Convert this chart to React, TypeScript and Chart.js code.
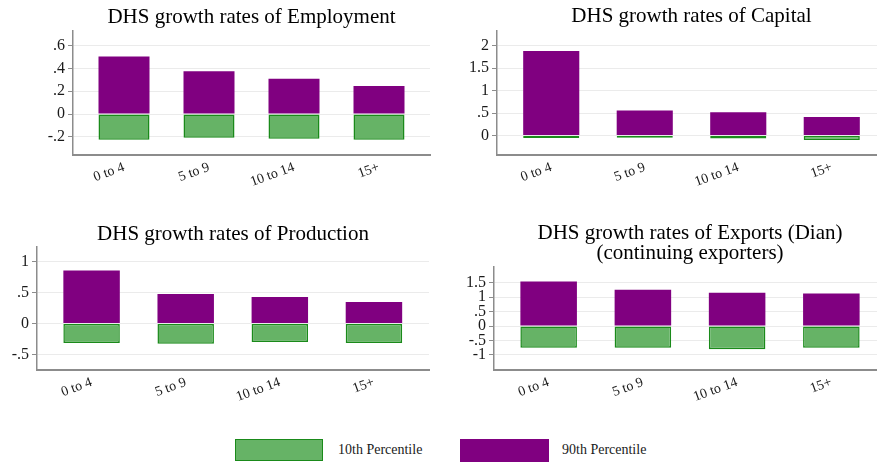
import React, { useEffect, useRef } from 'react';
import { Chart, registerables } from 'chart.js';

Chart.register(...registerables);

// ---------- data ----------
const categories = ['0 to 4', '5 to 9', '10 to 14', '15+'];
const legendLabels = ['10th Percentile', '90th Percentile'];

const employmentP10 = [-0.226, -0.209, -0.218, -0.226];
const employmentP90 = [0.506, 0.376, 0.311, 0.247];
const employmentTicks = [-0.2, 0, 0.2, 0.4, 0.6];

const capitalP10 = [-0.054, -0.05, -0.067, -0.098];
const capitalP90 = [1.88, 0.558, 0.52, 0.415];
const capitalTicks = [0, 0.5, 1, 1.5, 2];

const productionP10 = [-0.316, -0.327, -0.3, -0.316];
const productionP90 = [0.86, 0.479, 0.43, 0.35];
const productionTicks = [-0.5, 0, 0.5, 1];

const exportsP10 = [-0.75, -0.75, -0.8, -0.75];
const exportsP90 = [1.54, 1.256, 1.15, 1.12];
const exportsTicks = [-1, -0.5, 0, 0.5, 1, 1.5];

// ---------- styles ----------
const GREEN_FILL = '#66b366';
const GREEN_LINE = '#1a8a1a';
const PURPLE = '#800080';
const AXIS = '#8c8c8c';
const GRID = '#ebebeb';
const TEXT = '#1a1a1a';
const SERIF = '"Liberation Serif", "Times New Roman", serif';

function fmt(v: number): string {
  const r = Math.round(v * 100) / 100;
  let s = String(r);
  s = s.replace(/^0\./, '.').replace(/^-0\./, '-.');
  return s;
}

const plotTitle = {
  id: 'plotTitle',
  afterDraw(chart: any, _args: any, opts: any) {
    const { ctx, chartArea } = chart;
    if (!opts || !opts.lines) return;
    ctx.save();
    ctx.font = `21px ${SERIF}`;
    ctx.fillStyle = '#000';
    ctx.textAlign = 'center';
    ctx.textBaseline = 'alphabetic';
    const cx = (chartArea.left + chartArea.right) / 2;
    opts.lines.forEach((l: string, i: number) => ctx.fillText(l, cx, opts.y + i * opts.lineHeight));
    ctx.restore();
  },
};

type PanelCfg = {
  lines: string[];
  p10: number[];
  p90: number[];
  ticks: number[];
  yMin: number;
  yMax: number;
  xMin: number;
  xMax: number;
  left: number;
  top: number;
  width: number;
  height: number;
  yAxisWidth: number;
  xAxisHeight: number;
  padTop: number;
  padRight: number;
  titleY: number;
};

const panels: PanelCfg[] = [
  {
    lines: ['DHS growth rates of Employment'],
    p10: employmentP10, p90: employmentP90, ticks: employmentTicks,
    yMin: -0.361, yMax: 0.731, xMin: -0.6, xMax: 3.6,
    left: 0, top: 0, width: 440, height: 200,
    yAxisWidth: 73, xAxisHeight: 45, padTop: 31, padRight: 10, titleY: 22.5,
  },
  {
    lines: ['DHS growth rates of Capital'],
    p10: capitalP10, p90: capitalP90, ticks: capitalTicks,
    yMin: -0.433, yMax: 2.328, xMin: -0.58, xMax: 3.58,
    left: 440, top: 0, width: 460, height: 200,
    yAxisWidth: 57, xAxisHeight: 45, padTop: 31, padRight: 14, titleY: 22,
  },
  {
    lines: ['DHS growth rates of Production'],
    p10: productionP10, p90: productionP90, ticks: productionTicks,
    yMin: -0.752, yMax: 1.242, xMin: -0.58, xMax: 3.585,
    left: 0, top: 210, width: 440, height: 200,
    yAxisWidth: 37, xAxisHeight: 40, padTop: 37, padRight: 11, titleY: 29.5,
  },
  {
    lines: ['DHS growth rates of Exports (Dian)', '(continuing exporters)'],
    p10: exportsP10, p90: exportsP90, ticks: exportsTicks,
    yMin: -1.52, yMax: 2.04, xMin: -0.58, xMax: 3.58,
    left: 440, top: 210, width: 460, height: 200,
    yAxisWidth: 54, xAxisHeight: 40, padTop: 57, padRight: 14, titleY: 29,
  },
];

function Panel({ cfg }: { cfg: PanelCfg }) {
  const ref = useRef<HTMLCanvasElement | null>(null);
  useEffect(() => {
    if (!ref.current) return;
    const chart = new Chart(ref.current, {
      type: 'bar',
      data: {
        datasets: [
          {
            label: legendLabels[0],
            data: cfg.p10.map((y, i) => ({ x: i, y })),
            backgroundColor: GREEN_FILL,
            borderColor: GREEN_LINE,
            borderWidth: 1.5,
            borderSkipped: false,
          },
          {
            label: legendLabels[1],
            data: cfg.p90.map((y, i) => ({ x: i, y })),
            backgroundColor: PURPLE,
            borderColor: PURPLE,
            borderWidth: 0,
          },
        ],
      } as any,
      options: {
        responsive: false,
        maintainAspectRatio: false,
        animation: false,
        devicePixelRatio: 1,
        layout: { padding: { top: cfg.padTop, right: cfg.padRight, left: 0, bottom: 0 } },
        datasets: { bar: { grouped: false, barPercentage: 0.6, categoryPercentage: 1 } },
        plugins: {
          legend: { display: false },
          tooltip: { enabled: false },
          title: { display: false },
          plotTitle: { lines: cfg.lines, y: cfg.titleY, lineHeight: 20 },
        } as any,
        scales: {
          x: {
            type: 'linear',
            min: cfg.xMin,
            max: cfg.xMax,
            offset: false,
            grid: { display: false, drawTicks: false },
            border: { display: true, color: AXIS, width: 2 },
            afterBuildTicks: (s: any) => {
              s.ticks = categories.map((_, i) => ({ value: i }));
            },
            afterFit: (s: any) => {
              s.height = cfg.xAxisHeight;
            },
            ticks: {
              callback: (v: any) => categories[v as number] ?? '',
              minRotation: 20,
              maxRotation: 20,
              autoSkip: false,
              font: { family: SERIF, size: 14 },
              color: TEXT,
              padding: 4,
            },
          },
          y: {
            min: cfg.yMin,
            max: cfg.yMax,
            afterBuildTicks: (s: any) => {
              s.ticks = cfg.ticks.map((v) => ({ value: v }));
            },
            afterFit: (s: any) => {
              s.width = cfg.yAxisWidth;
            },
            grid: { color: GRID, tickColor: AXIS, tickLength: 5, lineWidth: 1 },
            border: { color: AXIS, width: 1.5 },
            ticks: {
              callback: (v: any) => fmt(Number(v)),
              autoSkip: false,
              font: { family: SERIF, size: 16 },
              color: TEXT,
              padding: 3,
            },
          },
        } as any,
      },
      plugins: [plotTitle as any],
    });
    return () => chart.destroy();
  }, [cfg]);
  return (
    <canvas
      ref={ref}
      width={cfg.width}
      height={cfg.height}
      style={{ position: 'absolute', left: cfg.left, top: cfg.top, width: cfg.width, height: cfg.height }}
    />
  );
}

export default function App() {
  const legendText: React.CSSProperties = {
    fontFamily: SERIF,
    fontSize: 14,
    color: TEXT,
    whiteSpace: 'nowrap',
  };
  return (
    <div
      style={{
        position: 'fixed',
        left: 0,
        top: 0,
        width: 877,
        height: 464,
        overflow: 'hidden',
        background: '#fff',
      }}
    >
      {panels.map((p, i) => (
        <Panel key={i} cfg={p} />
      ))}
      <div
        style={{
          position: 'absolute',
          left: 235,
          top: 438,
          height: 24,
          display: 'flex',
          alignItems: 'center',
        }}
      >
        <div style={{ width: 86, height: 20, background: GREEN_FILL, border: `1.5px solid ${GREEN_LINE}` }} />
        <div style={{ ...legendText, marginLeft: 15, width: 84 }}>{legendLabels[0]}</div>
        <div style={{ marginLeft: 38, width: 89, height: 23, background: PURPLE }} />
        <div style={{ ...legendText, marginLeft: 13 }}>{legendLabels[1]}</div>
      </div>
    </div>
  );
}
